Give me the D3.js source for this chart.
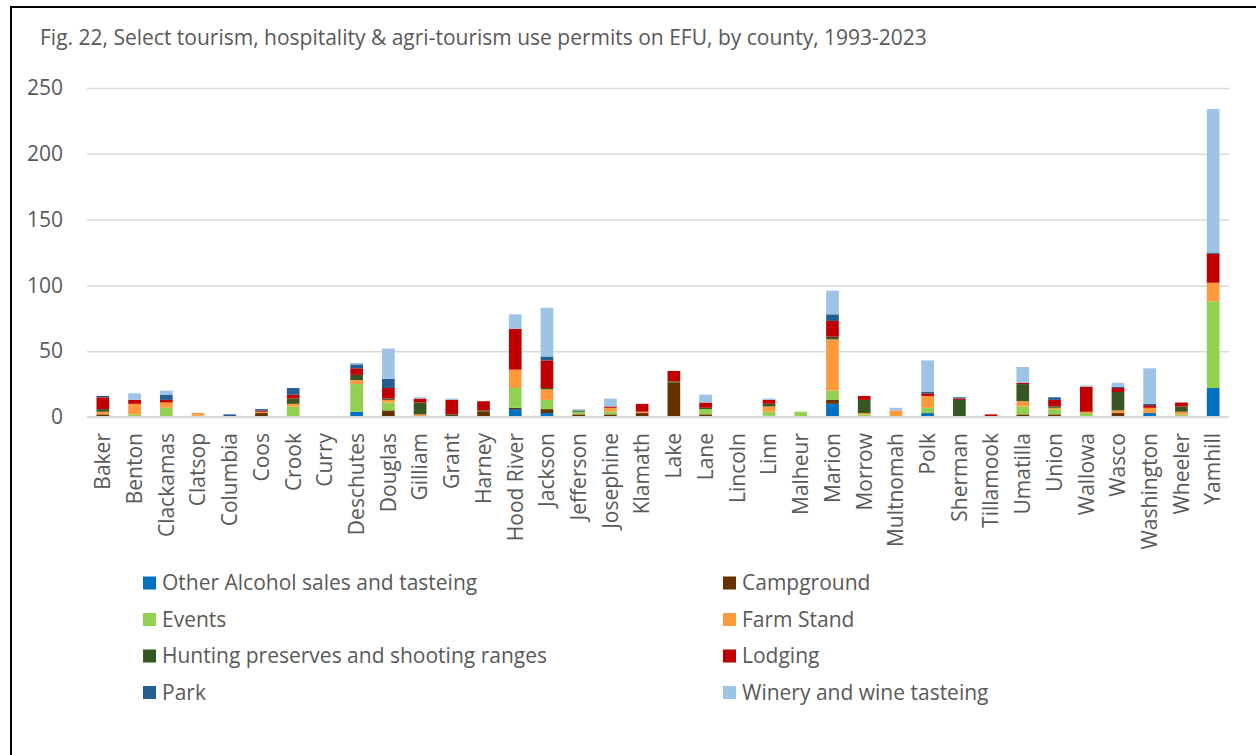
<!DOCTYPE html>
<html><head><meta charset="utf-8">
<script src="https://cdn.jsdelivr.net/npm/d3@7"></script>
<style>body{margin:0;background:#fff;} svg{display:block;font-family:"Open Sans",sans-serif;}</style>
</head><body><svg id="c" width="1256" height="755"></svg>
<script>
const counties = ["Baker","Benton","Clackamas","Clatsop","Columbia","Coos","Crook","Curry","Deschutes","Douglas","Gilliam","Grant","Harney","Hood River","Jackson","Jefferson","Josephine","Klamath","Lake","Lane","Lincoln","Linn","Malheur","Marion","Morrow","Multnomah","Polk","Sherman","Tillamook","Umatilla","Union","Wallowa","Wasco","Washington","Wheeler","Yamhill"];
const seriesNames = ["Other Alcohol sales and tasteing","Campground","Events","Farm Stand","Hunting preserves and shooting ranges","Lodging","Park","Winery and wine tasteing"];
const seriesColors = ["#0070C0","#663300","#92D050","#FF9A3C","#375623","#C00000","#255E91","#9DC3E6"];
//                      Bak Ben Cla Clt Col Coo Cro Cur Des Dou Gil Gra Har HoR Jac Jef Jos Kla Lak Lan Lin Lnn Mal Mar Mor Mul Pol She Til Uma Uni Wal Was Was Whe Yam
const otherAlcohol = [ 0,  0,  0,  0,  0,  0,  0,  0,  4,  0,  0,  0,  0,  6,  3,  0,  0,  0,  0,  0,  0,  1,  0, 10,  0,  0,  3,  0,  0,  0,  0,  0,  0,  3,  0, 22];
const campground   = [ 2,  0,  0,  0,  0,  3,  0,  0,  0,  5,  0,  0,  4,  1,  3,  2,  2,  3, 26,  2,  0,  0,  0,  3,  1,  0,  0,  0,  0,  2,  2,  0,  3,  0,  1,  0];
const events       = [ 0,  2,  7,  1,  0,  0,  8,  0, 21,  6,  0,  0,  0, 15,  7,  2,  2,  0,  0,  4,  0,  3,  4,  7,  1,  0,  4,  0,  0,  6,  4,  3,  0,  0,  1, 66];
const farmStand    = [ 2,  8,  4,  2,  0,  1,  2,  0,  3,  2,  2,  0,  0, 14,  8,  0,  3,  1,  0,  0,  0,  4,  0, 39,  1,  5,  9,  0,  0,  4,  1,  1,  2,  4,  2, 14];
const hunting      = [ 2,  0,  0,  0,  0,  0,  4,  0,  4,  1,  9,  2,  1,  0,  1,  1,  0,  0,  1,  1,  0,  2,  0,  2, 10,  0,  0, 13,  0, 13,  1,  0, 14,  0,  4,  0];
const lodging      = [ 9,  3,  2,  0,  0,  1,  3,  0,  5,  8,  3, 11,  7, 31, 21,  0,  1,  6,  8,  4,  0,  3,  0, 12,  3,  0,  2,  1,  2,  1,  5, 19,  3,  2,  3, 22];
const park         = [ 1,  0,  4,  0,  2,  1,  5,  0,  3,  7,  0,  0,  0,  0,  3,  0,  0,  0,  0,  0,  0,  0,  0,  5,  0,  0,  1,  1,  0,  0,  2,  0,  1,  1,  0,  1];
const winery       = [ 0,  5,  3,  0,  0,  0,  0,  0,  1, 23,  1,  1,  0, 11, 37,  1,  6,  0,  0,  6,  0,  1,  0, 18,  0,  2, 24,  0,  0, 12,  0,  1,  3, 27,  0,109];
const yTicks = [0,50,100,150,200,250];
const titleText = "Fig. 22, Select tourism, hospitality & agri-tourism use permits on EFU, by county, 1993-2023";

const seriesValues = [otherAlcohol,campground,events,farmStand,hunting,lodging,park,winery];
const rows = counties.map((c,i)=>{const r={county:c}; seriesNames.forEach((s,j)=>r[s]=seriesValues[j][i]); return r;});
const stacked = d3.stack().keys(seriesNames)(rows);

const svg = d3.select("#c");
const textColor = "#595959";
const fs = 21;
// frame (left and top edges)
svg.append("line").attr("x1",11).attr("x2",11).attr("y1",6).attr("y2",755).attr("stroke","#000").attr("stroke-width",2);
svg.append("line").attr("x1",10).attr("x2",1256).attr("y1",7).attr("y2",7).attr("stroke","#000").attr("stroke-width",2);

svg.append("text").attr("x",40).attr("y",45).attr("fill",textColor).attr("font-size",fs).text(titleText);

const x = d3.scaleBand().domain(counties).range([87,1229]).paddingInner(0.6).paddingOuter(0.3);
const y = d3.scaleLinear().domain([0,250]).range([417,88]);

const gy = svg.append("g").attr("transform","translate(87,0)")
  .call(d3.axisLeft(y).tickValues(yTicks).tickSize(-(1229-87)).tickPadding(24));
gy.select(".domain").remove();
gy.selectAll(".tick line").attr("stroke","#d9d9d9").attr("stroke-width",1.5);
gy.selectAll(".tick text").attr("fill",textColor).attr("font-size",fs).attr("font-family","Open Sans");

svg.append("g").selectAll("g").data(stacked).join("g")
  .attr("fill",(d,i)=>seriesColors[i])
  .selectAll("rect").data(d=>d).join("rect")
  .attr("x",d=>x(d.data.county))
  .attr("width",x.bandwidth())
  .attr("y",d=>y(d[1]))
  .attr("height",d=>y(d[0])-y(d[1]));

const gx = svg.append("g").attr("transform","translate(0,417)")
  .call(d3.axisBottom(x).tickSize(0).tickPadding(0));
gx.select(".domain").attr("stroke","#d9d9d9").attr("stroke-width",2).attr("d","M87,0H1229");
gx.selectAll(".tick text").attr("fill",textColor).attr("font-size",fs).attr("font-family","Open Sans")
  .attr("transform","rotate(-90)").attr("text-anchor","end").attr("dx","-16px").attr("dy","0.35em").attr("y",0).attr("x",0);

// legend
const legX = [143,723], legY = [583,619.5,656,692.5];
const leg = svg.append("g").selectAll("g").data(seriesNames).join("g")
  .attr("transform",(d,i)=>`translate(${legX[i%2]},${legY[Math.floor(i/2)]})`);
leg.append("rect").attr("x",0).attr("y",-6.5).attr("width",13).attr("height",13).attr("fill",(d,i)=>seriesColors[i]);
leg.append("text").attr("x",19).attr("y",0).attr("dy","0.35em").attr("fill",textColor).attr("font-size",fs).text(d=>d);
</script></body></html>
